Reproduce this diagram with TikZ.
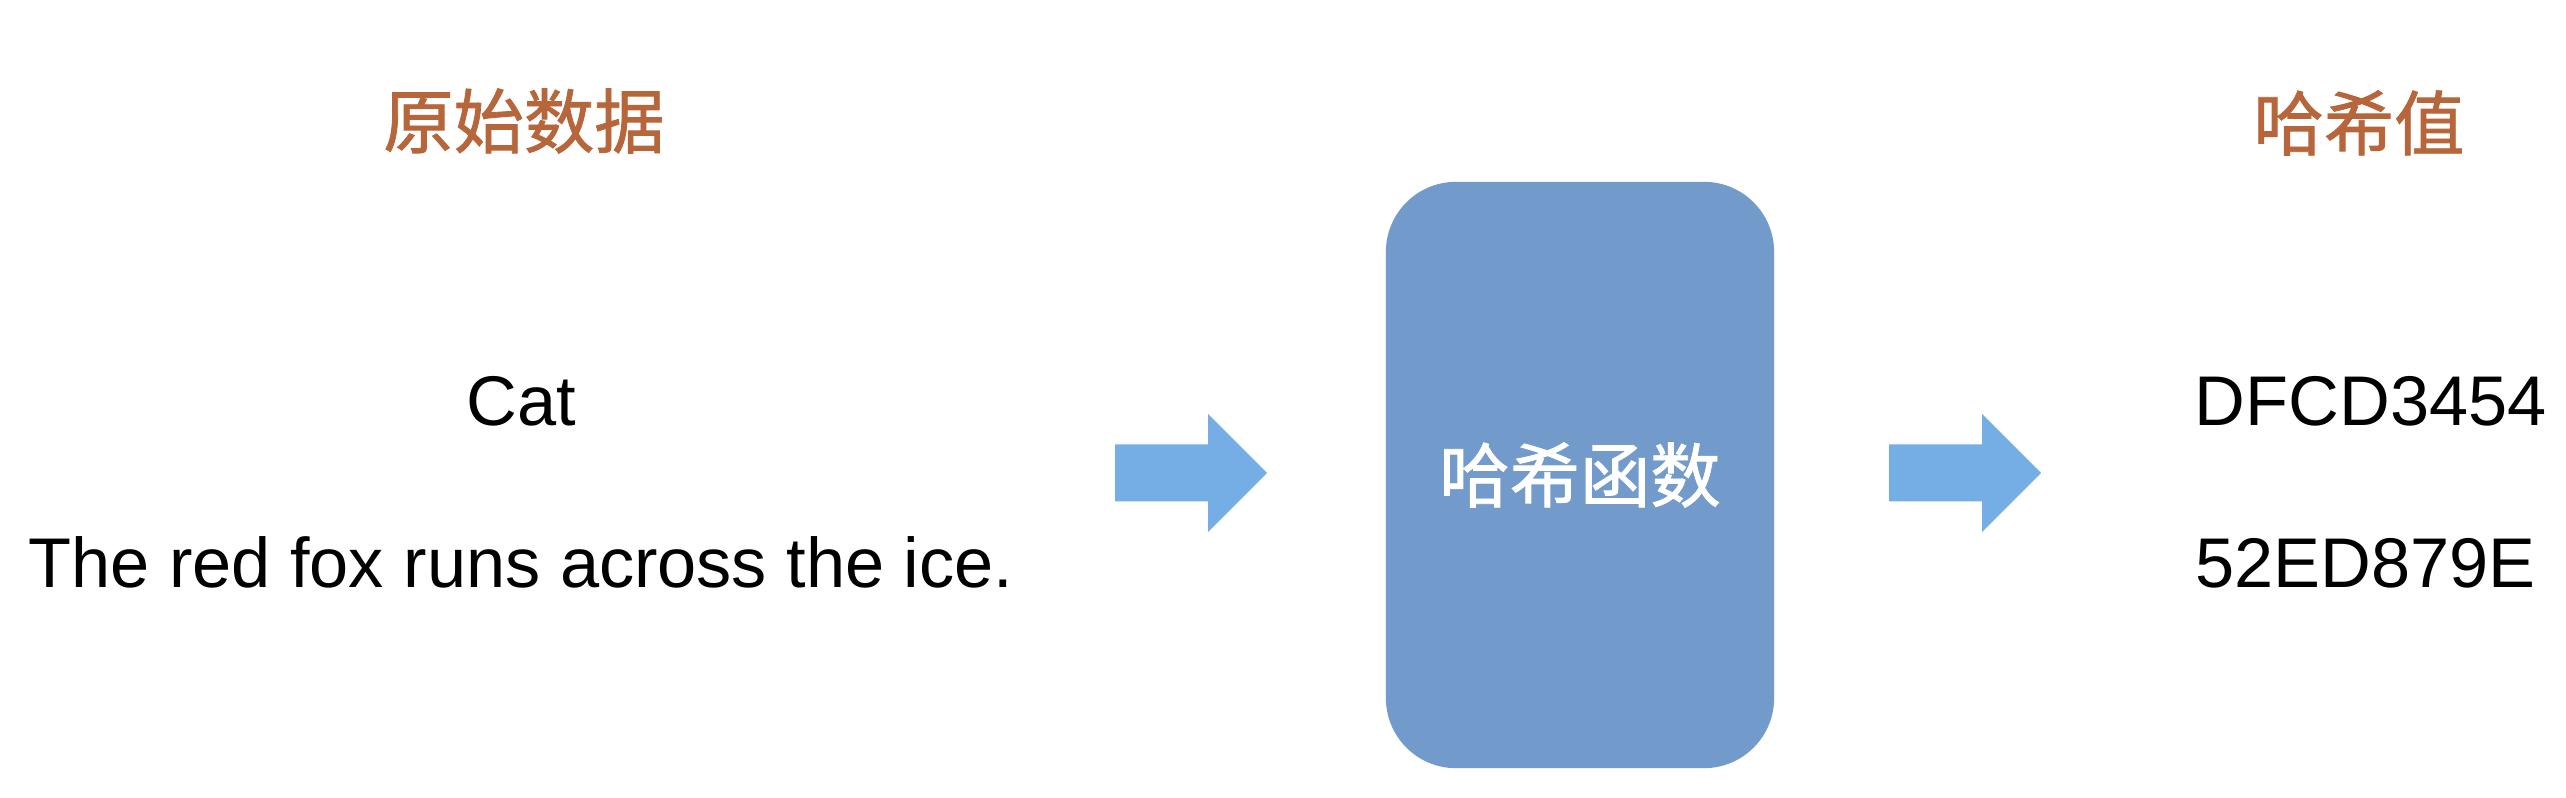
\documentclass[tikz,border=0pt]{standalone}
\usepackage{fontspec}
\setmainfont{Liberation Sans}
\newfontfamily\cjkfont[FakeBold=1.2]{Noto Sans CJK SC}
\definecolor{titleColor}{RGB}{183,101,58}
\definecolor{boxColor}{RGB}{114,155,203}
\definecolor{arrowColor}{RGB}{117,174,228}

\begin{document}
\begin{tikzpicture}[x=0.01cm,y=-0.01cm]

          \tikzstyle{titleNode} = [titleColor, inner sep=0pt, font=\cjkfont\fontsize{20pt}{24pt}\selectfont];
          \tikzstyle{dataNode} = [black, inner sep=0pt, anchor=base, font=\fontsize{20pt}{24pt}\selectfont];
          \tikzstyle{hashNode} = [dataNode, anchor=base west];
          \tikzstyle{funcBox} = [fill=boxColor, rounded corners=0.7cm, minimum width=3.88cm, minimum height=5.86cm, text=white, font=\cjkfont\fontsize{20pt}{24pt}\selectfont];
          \tikzstyle{bigArrow} = [fill=arrowColor];

          \useasboundingbox (0,0) rectangle (2566,798);

          \node[titleNode] (source) at (524,121) {原始数据};
          \node[titleNode] (digest) at (2359,123) {哈希值};

          \node[dataNode] (cat) at (521,426) {Cat};
          \node[dataNode] (fox) at (521,588) {The red fox runs across the ice.};

          \node[funcBox] (func) at (1580,475) {哈希函数};

          \node[hashNode] (catHash) at (2194,426) {DFCD3454};
          \node[hashNode] (foxHash) at (2195,588) {52ED879E};

          \coordinate (inArrow) at (1115,473);
          \coordinate (outArrow) at (1889,473);

          \fill[bigArrow] (inArrow) -- ++(0,-28.5) -- ++(93,0) -- ++(0,-30.5) -- ++(59,59) -- ++(-59,59) -- ++(0,-30.5) -- ++(-93,0) -- cycle;
          \fill[bigArrow] (outArrow) -- ++(0,-28.5) -- ++(93,0) -- ++(0,-30.5) -- ++(59,59) -- ++(-59,59) -- ++(0,-30.5) -- ++(-93,0) -- cycle;
        \end{tikzpicture}
\end{document}
